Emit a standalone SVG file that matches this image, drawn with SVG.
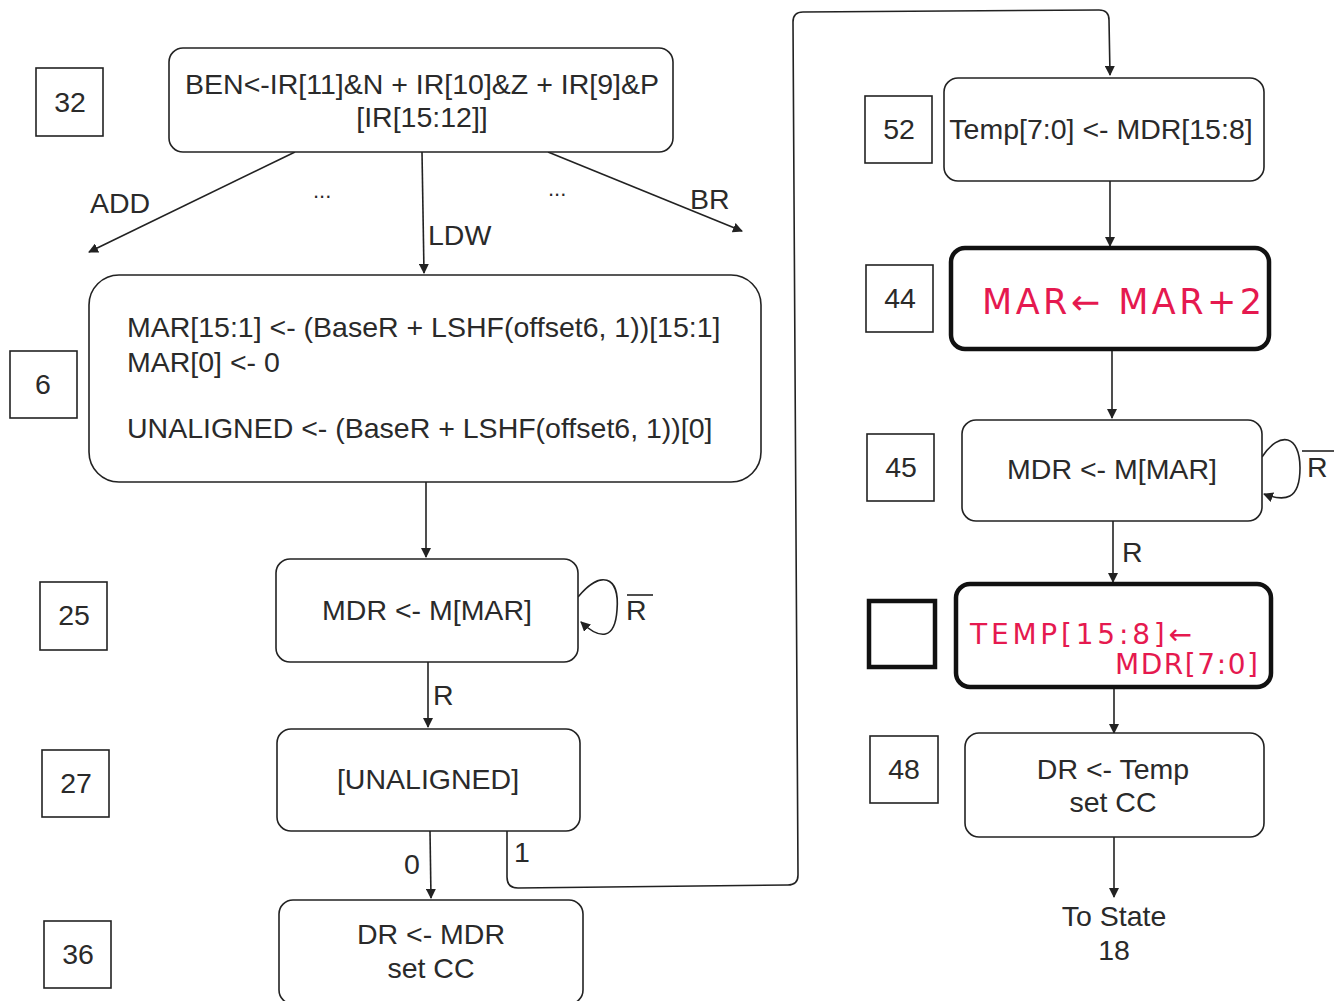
<svg xmlns="http://www.w3.org/2000/svg" width="1342" height="1001" viewBox="0 0 1342 1001">
<defs>
<marker id="ah" viewBox="0 0 10 10" refX="9" refY="5" markerWidth="10" markerHeight="10" markerUnits="userSpaceOnUse" orient="auto">
<path d="M0,0 L10,5 L0,10 z" fill="#222"/>
</marker>
<style>
.node{fill:#fff;stroke:#222;stroke-width:1.6}
.thick{fill:#fff;stroke:#111;stroke-width:4.5}
.lbl{fill:#fff;stroke:#222;stroke-width:1.6}
.t{font-family:"Liberation Sans",Arial,sans-serif;font-size:28.5px;fill:#2a2a2a}
.dots{font-family:"Liberation Sans",Arial,sans-serif;font-size:22px;fill:#2a2a2a}
.c{text-anchor:middle}
.e{stroke:#222;stroke-width:1.6;fill:none}
.red{font-family:"DejaVu Sans","Liberation Sans",sans-serif;font-size:35px;fill:#e5194f}
.red2{font-family:"DejaVu Sans","Liberation Sans",sans-serif;font-size:28px;fill:#e5194f}
</style>
</defs>
<rect width="1342" height="1001" fill="#fff"/>

<g id="connectors">
<line class="e" x1="295" y1="152" x2="89" y2="252" marker-end="url(#ah)"/>
<line class="e" x1="422" y1="152" x2="424" y2="273" marker-end="url(#ah)"/>
<line class="e" x1="548" y1="152" x2="742" y2="231" marker-end="url(#ah)"/>
<line class="e" x1="426" y1="482" x2="426" y2="557" marker-end="url(#ah)"/>
<path class="e" d="M578,597 C600,570 620,575 617,610 C615,640 600,640 581,622" marker-end="url(#ah)"/>
<line class="e" x1="428" y1="662" x2="428" y2="727" marker-end="url(#ah)"/>
<line class="e" x1="430" y1="831" x2="431" y2="898" marker-end="url(#ah)"/>
<path class="e" d="M507,831 L507,877 Q507,888 518,888 L788,885 Q798,885 798,875 L793,22 Q793,12 803,12 L1099,10 Q1109,10 1109,20 L1110,75" marker-end="url(#ah)"/>
<line class="e" x1="1110" y1="181" x2="1110" y2="246" marker-end="url(#ah)"/>
<line class="e" x1="1112" y1="350" x2="1112" y2="418" marker-end="url(#ah)"/>
<path class="e" d="M1262,457 C1280,430 1300,435 1300,468 C1300,500 1285,502 1264,494" marker-end="url(#ah)"/>
<line class="e" x1="1113" y1="521" x2="1113" y2="582" marker-end="url(#ah)"/>
<line class="e" x1="1114" y1="688" x2="1114" y2="733" marker-end="url(#ah)"/>
<line class="e" x1="1114" y1="837" x2="1114" y2="897" marker-end="url(#ah)"/>
<text class="t" x="90" y="213">ADD</text>
<text class="dots" x="313" y="198">...</text>
<text class="dots" x="548" y="196">...</text>
<text class="t" x="428" y="245">LDW</text>
<text class="t" x="690" y="209">BR</text>
<text class="t" x="626" y="620">R</text>
<line class="e" x1="627" y1="595" x2="653" y2="595"/>
<text class="t" x="433" y="705">R</text>
<text class="t" x="404" y="874">0</text>
<text class="t" x="514" y="862">1</text>
<text class="t" x="1307" y="477">R</text>
<line class="e" x1="1302" y1="451" x2="1334" y2="451"/>
<text class="t" x="1122" y="562">R</text>
</g>

<g id="n32">
<rect class="lbl" x="36" y="68" width="67" height="68"/>
<text class="t c" x="70" y="112">32</text>
<rect class="node" x="169" y="48" width="504" height="104" rx="14"/>
<text class="t c" x="422" y="94">BEN&lt;-IR[11]&amp;N + IR[10]&amp;Z + IR[9]&amp;P</text>
<text class="t c" x="422" y="127">[IR[15:12]]</text>
</g>

<g id="n6">
<rect class="lbl" x="10" y="351" width="67" height="67"/>
<text class="t c" x="43" y="394">6</text>
<rect class="node" x="89" y="275" width="672" height="207" rx="30"/>
<text class="t" x="127" y="337">MAR[15:1] &lt;- (BaseR + LSHF(offset6, 1))[15:1]</text>
<text class="t" x="127" y="372">MAR[0] &lt;- 0</text>
<text class="t" x="127" y="438">UNALIGNED &lt;- (BaseR + LSHF(offset6, 1))[0]</text>
</g>

<g id="n25">
<rect class="lbl" x="40" y="582" width="67" height="68"/>
<text class="t c" x="74" y="625">25</text>
<rect class="node" x="276" y="559" width="302" height="103" rx="14"/>
<text class="t c" x="427" y="620">MDR &lt;- M[MAR]</text>
</g>

<g id="n27">
<rect class="lbl" x="42" y="750" width="67" height="67"/>
<text class="t c" x="76" y="793">27</text>
<rect class="node" x="277" y="729" width="303" height="102" rx="14"/>
<text class="t c" x="428" y="789">[UNALIGNED]</text>
</g>

<g id="n36">
<rect class="lbl" x="44" y="921" width="67" height="67"/>
<text class="t c" x="78" y="964">36</text>
<rect class="node" x="279" y="900" width="304" height="104" rx="14"/>
<text class="t c" x="431" y="944">DR &lt;- MDR</text>
<text class="t c" x="431" y="978">set CC</text>
</g>

<g id="n52">
<rect class="lbl" x="865" y="96" width="67" height="67"/>
<text class="t c" x="899" y="139">52</text>
<rect class="node" x="944" y="78" width="320" height="103" rx="14"/>
<text class="t c" x="1101" y="139">Temp[7:0] &lt;- MDR[15:8]</text>
</g>

<g id="n44">
<rect class="lbl" x="866" y="265" width="67" height="67"/>
<text class="t c" x="900" y="308">44</text>
<rect class="thick" x="951" y="248" width="318" height="101" rx="14"/>
<text class="red" x="982" y="314" textLength="280" lengthAdjust="spacing">MAR← MAR+2</text>
</g>

<g id="n45">
<rect class="lbl" x="867" y="434" width="67" height="67"/>
<text class="t c" x="901" y="477">45</text>
<rect class="node" x="962" y="420" width="300" height="101" rx="14"/>
<text class="t c" x="1112" y="479">MDR &lt;- M[MAR]</text>
</g>

<g id="nTemp">
<rect class="thick" x="869" y="601" width="66" height="66"/>
<rect class="thick" x="956" y="584" width="315" height="103" rx="14"/>
<text class="red2" x="970" y="644" textLength="222" lengthAdjust="spacing">TEMP[15:8]←</text>
<text class="red2" x="1115" y="674" textLength="143" lengthAdjust="spacing">MDR[7:0]</text>
</g>

<g id="n48">
<rect class="lbl" x="870" y="736" width="68" height="67"/>
<text class="t c" x="904" y="779">48</text>
<rect class="node" x="965" y="733" width="299" height="104" rx="14"/>
<text class="t c" x="1113" y="779">DR &lt;- Temp</text>
<text class="t c" x="1113" y="812">set CC</text>
</g>

<g id="toState">
<text class="t c" x="1114" y="926">To State</text>
<text class="t c" x="1114" y="960">18</text>
</g>
</svg>
